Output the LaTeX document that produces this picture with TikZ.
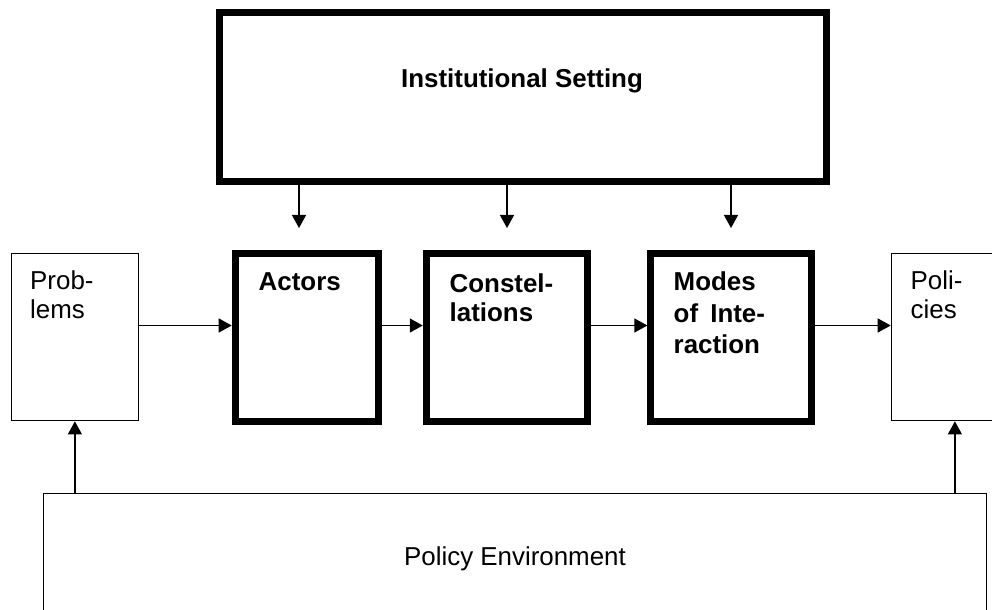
\documentclass[tikz,border=0pt]{standalone}
\usepackage{fontspec}
\setmainfont{Liberation Sans}
\usetikzlibrary{arrows.meta}
\begin{document}
\begin{tikzpicture}[x=1bp,y=-1bp,
  thinbox/.style={draw, line width=1.3bp, inner sep=0pt, outer sep=0.65bp, rectangle},
  thickbox/.style={draw, line width=7bp, inner sep=0pt, outer sep=3.5bp, rectangle},
  arr/.style={line width=1.3bp, -{Triangle[length=13bp,width=14bp]}},
  reg/.style={font=\fontsize{26}{28.3}\selectfont, inner sep=0pt, anchor=base west},
  bld/.style={font=\bfseries\fontsize{26}{29.5}\selectfont, inner sep=0pt, anchor=base west}]
\useasboundingbox (0,0) rectangle (992,610);
% boxes
\node[thickbox, minimum width=607.4bp, minimum height=168.7bp] (inst) at (522.8,97.2) {};
\node[thinbox, minimum width=127.1bp, minimum height=167.4bp] (problems) at (74.9,337) {};
\node[thickbox, minimum width=143.6bp, minimum height=168bp] (actors) at (307,337.5) {};
\node[thickbox, minimum width=161.3bp, minimum height=168bp] (constel) at (506.9,337.5) {};
\node[thickbox, minimum width=160.7bp, minimum height=168bp] (modes) at (731.2,337.5) {};
\node[thinbox, minimum width=127.1bp, minimum height=167.4bp] (policies) at (954.9,337) {};
\node[thinbox, minimum width=943.4bp, minimum height=146.3bp] (env) at (515,566.85) {};
% texts
\node[bld, anchor=base] (instT) at (522,88) {Institutional Setting};
\node[reg] (probT) at (30,290) {\vtop{\baselineskip=28.3bp\hbox{Prob-}\hbox{lems}}};
\node[bld] (actT) at (258.5,291) {Actors};
\node[bld] (consT) at (449.5,292.7) {\vtop{\baselineskip=29bp\hbox{Constel-}\hbox{lations}}};
\node[bld] (modT) at (673.5,291) {\vtop{\baselineskip=31bp\hbox{Modes}\hbox{of\hspace{5bp} Inte-}\hbox{raction}}};
\node[reg] (polT) at (910.5,290) {\vtop{\baselineskip=28.3bp\hbox{Poli-}\hbox{cies}}};
\node[reg, anchor=base] (envT) at (515,565.7) {Policy Environment};
% connectors
\coordinate (hy) at (0,325.5);
\draw[arr] (problems.east |- hy) -- (actors.west |- hy);
\draw[arr] (actors.east |- hy) -- (constel.west |- hy);
\draw[arr] (constel.east |- hy) -- (modes.west |- hy);
\draw[arr] (modes.east |- hy) -- (policies.west |- hy);
\coordinate (d1) at (299,228);
\coordinate (d2) at (507,228);
\coordinate (d3) at (731,228);
\draw[arr] (inst.south -| d1) -- (d1);
\draw[arr] (inst.south -| d2) -- (d2);
\draw[arr] (inst.south -| d3) -- (d3);
\draw[arr] (env.north -| problems.south) -- (problems.south);
\draw[arr] (env.north -| policies.south) -- (policies.south);
\end{tikzpicture}
\end{document}
